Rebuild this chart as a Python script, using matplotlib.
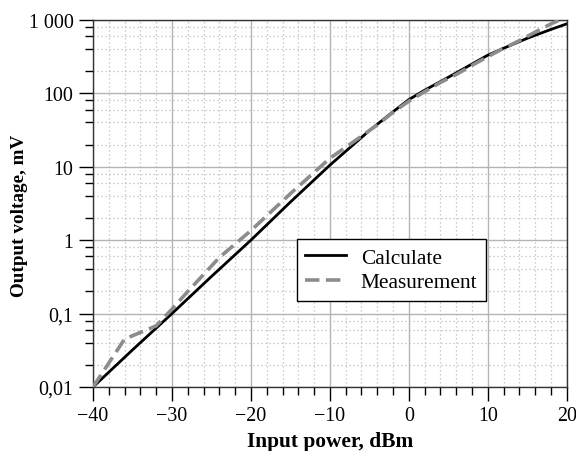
import matplotlib
matplotlib.use("Agg")
import matplotlib.pyplot as plt
from matplotlib.ticker import LogLocator, FixedLocator, FuncFormatter, NullFormatter

plt.rcParams['font.family'] = ['Liberation Serif', 'DejaVu Serif']

# data
calc_power = [-40, -35, -30, -25, -20, -15, -10, -5, -2, 0, 2, 5, 8, 10, 12, 15, 18, 20]
calc_volt = [0.01, 0.032, 0.1, 0.32, 1.0, 3.3, 10.5, 31, 56, 82, 110, 165, 250, 330, 410, 560, 740, 880]

meas_power = [-40, -36, -32, -30, -28, -26, -24, -20, -15, -10, -6, -4, -2, 0, 2, 4, 6, 8, 10, 12, 14, 16, 18, 20]
meas_volt = [0.01, 0.045, 0.068, 0.115, 0.2, 0.34, 0.58, 1.35, 4.3, 13.0, 26, 37, 55, 78, 105, 140, 180, 240, 315, 410, 520, 680, 880, 1100]

x_ticks = [-40, -30, -20, -10, 0, 10, 20]
y_ticks = [0.01, 0.1, 1, 10, 100, 1000]
y_labels = ['0,01', '0,1', '1', '10', '100', '1 000']

fig = plt.figure(figsize=(5.76, 4.52), dpi=100)
ax = fig.add_axes([0.1615, 0.1416, 0.8225, 0.8124])

ax.plot(calc_power, calc_volt, color='black', lw=2.0, label='Calculate', zorder=3)
ax.plot(meas_power, meas_volt, color='#8c8c8c', lw=2.6, dashes=(4, 1.8), label='Measurement', zorder=4)

ax.set_yscale('log')
ax.set_xlim(-40, 20)
ax.set_ylim(0.01, 1000)

ax.set_xticks(x_ticks)
ax.set_xticklabels([str(v).replace('-', '\u2212') for v in x_ticks])
ax.xaxis.set_minor_locator(FixedLocator(range(-40, 21, 2)))

ax.yaxis.set_major_locator(FixedLocator(y_ticks))
ax.yaxis.set_major_formatter(FuncFormatter(lambda v, p: y_labels[y_ticks.index(min(y_ticks, key=lambda t: abs(t - v)))]))
ax.yaxis.set_minor_locator(LogLocator(base=10, subs=[2, 4, 6, 8], numticks=20))
ax.yaxis.set_minor_formatter(NullFormatter())

ax.tick_params(which='major', direction='out', length=10, width=1, labelsize=14.4, pad=4)
ax.tick_params(which='minor', direction='out', length=6, width=1)
ax.tick_params(top=False, right=False, which='both')

ax.grid(True, which='major', color='#b4b4b4', lw=1.0, ls='-')
ax.grid(True, which='minor', color='#bcbcbc', lw=0.9, ls=(0, (1, 2.2)))
ax.set_axisbelow(True)

for s in ax.spines.values():
    s.set_color('#333333')
    s.set_linewidth(1.0)

ax.set_xlabel('Input power, dBm', fontsize=15.4, fontweight='bold', labelpad=4)
ax.set_ylabel('Output voltage, mV', fontsize=13.8, fontweight='bold')
ax.yaxis.set_label_coords(-0.137, 0.47)

leg = ax.legend(loc='upper left', bbox_to_anchor=(0.43, 0.402), fontsize=15.4,
                frameon=True, fancybox=False, edgecolor='black', framealpha=1,
                handlelength=1.9, borderpad=0.4, labelspacing=0.2, handletextpad=0.7,
                borderaxespad=0)
leg.get_frame().set_linewidth(1.0)

fig.savefig('out.png', dpi=100)
